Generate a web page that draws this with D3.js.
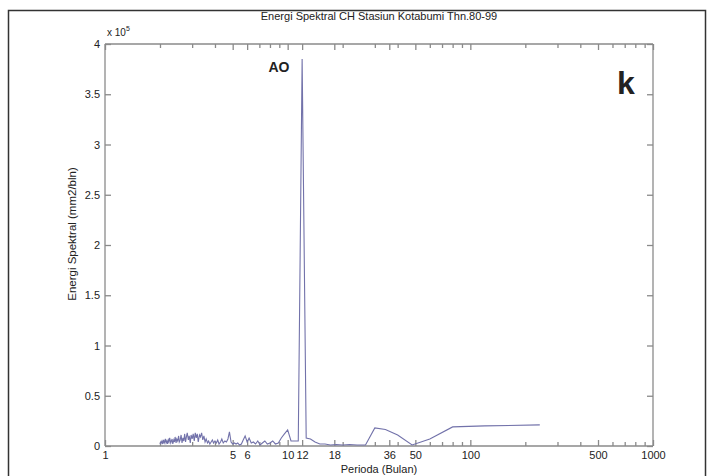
<!DOCTYPE html>
<html>
<head>
<meta charset="utf-8">
<script src="https://cdn.jsdelivr.net/npm/d3@7/dist/d3.min.js"></script>
<style>
  body { margin: 0; background: #fff; }
  text { font-family: "Liberation Sans", Arial, sans-serif; fill: #222; }
  .axis path, .axis line { stroke: #8a8a8a; stroke-width: 1.3; }
  .axis text { font-size: 11px; fill: #222; }
  .line { fill: none; stroke: #7272aa; stroke-width: 1.1; }
</style>
</head>
<body>
<div id="chart"></div>
<script>
// periods (months) of the spectrum, 240/k, k = 120 .. 1
var periods = [
  2.00, 2.02, 2.03, 2.05, 2.07, 2.09, 2.11, 2.12, 2.14, 2.16,
  2.18, 2.20, 2.22, 2.24, 2.26, 2.29, 2.31, 2.33, 2.35, 2.38,
  2.40, 2.42, 2.45, 2.47, 2.50, 2.53, 2.55, 2.58, 2.61, 2.64,
  2.67, 2.70, 2.73, 2.76, 2.79, 2.82, 2.86, 2.89, 2.93, 2.96,
  3.00, 3.04, 3.08, 3.12, 3.16, 3.20, 3.24, 3.29, 3.33, 3.38,
  3.43, 3.48, 3.53, 3.58, 3.64, 3.69, 3.75, 3.81, 3.87, 3.93,
  4.00, 4.07, 4.14, 4.21, 4.29, 4.36, 4.44, 4.53, 4.62, 4.71,
  4.80, 4.90, 5.00, 5.11, 5.22, 5.33, 5.45, 5.58, 5.71, 5.85,
  6.00, 6.15, 6.32, 6.49, 6.67, 6.86, 7.06, 7.27, 7.50, 7.74,
  8.00, 8.28, 8.57, 8.89, 9.23, 9.60, 10.00, 10.43, 10.91, 11.43,
  12.00, 12.63, 13.33, 14.12, 15.00, 16.00, 17.14, 18.46, 20.00, 21.82,
  24.00, 26.67, 30.00, 34.29, 40.00, 48.00, 60.00, 80.00, 120.00, 240.00
];

// spectral energy, x 10^5 mm2/bln
var energy = [
  0.02, 0.04, 0.03, 0.05, 0.02, 0.06, 0.03, 0.04, 0.07, 0.03,
  0.05, 0.02, 0.06, 0.04, 0.08, 0.03, 0.05, 0.07, 0.02, 0.06,
  0.04, 0.09, 0.03, 0.07, 0.05, 0.10, 0.04, 0.06, 0.11, 0.03,
  0.08, 0.05, 0.12, 0.04, 0.09, 0.13, 0.06, 0.10, 0.03, 0.11,
  0.07, 0.12, 0.05, 0.13, 0.08, 0.12, 0.04, 0.11, 0.09, 0.13,
  0.06, 0.10, 0.04, 0.07, 0.03, 0.05, 0.02, 0.04, 0.06, 0.03,
  0.05, 0.03, 0.06, 0.02, 0.04, 0.07, 0.03, 0.05, 0.04, 0.07,
  0.14, 0.04, 0.02, 0.03, 0.02, 0.03, 0.01, 0.02, 0.06, 0.10,
  0.04, 0.08, 0.03, 0.04, 0.02, 0.05, 0.01, 0.03, 0.05, 0.02,
  0.03, 0.05, 0.02, 0.03, 0.08, 0.12, 0.16, 0.05, 0.05, 0.05,
  3.85, 0.08, 0.07, 0.04, 0.02, 0.02, 0.01, 0.015, 0.01, 0.015,
  0.01, 0.01, 0.18, 0.165, 0.11, 0.01, 0.07, 0.19, 0.20, 0.21
];

var xTicks = [1, 5, 6, 10, 12, 18, 36, 50, 100, 500, 1000];
var yTicks = [0, 0.5, 1, 1.5, 2, 2.5, 3, 3.5, 4];

var width = 714, height = 476;
var mLeft = 105, mRight = 653, mTop = 44, mBottom = 446;

var svg = d3.select("#chart").append("svg")
  .attr("width", width)
  .attr("height", height);

// outer frame of the figure
svg.append("rect")
  .attr("x", 8.5).attr("y", 10.5)
  .attr("width", 697).attr("height", 480)
  .attr("fill", "none")
  .attr("stroke", "#333")
  .attr("stroke-width", 1.5);

var x = d3.scaleLog().domain([1, 1000]).range([mLeft, mRight]);
var y = d3.scaleLinear().domain([0, 4]).range([mBottom, mTop]);

var minor = x.ticks().filter(function (d) { return xTicks.indexOf(d) < 0; });

// minor ticks bottom / top
svg.append("g").attr("class", "axis")
  .attr("transform", "translate(0," + mBottom + ")")
  .call(d3.axisBottom(x).tickValues(minor).tickSize(-4).tickFormat(""))
  .select(".domain").remove();
svg.append("g").attr("class", "axis")
  .attr("transform", "translate(0," + mTop + ")")
  .call(d3.axisTop(x).tickValues(minor).tickSize(-4).tickFormat(""))
  .select(".domain").remove();

// major x ticks
svg.append("g").attr("class", "axis")
  .attr("transform", "translate(0," + mBottom + ")")
  .call(d3.axisBottom(x).tickValues(xTicks).tickSize(-6).tickPadding(5)
    .tickFormat(function (d) { return d; }))
  .call(function (g) { g.select(".domain").attr("d", "M" + mLeft + ",0H" + mRight); });
svg.append("g").attr("class", "axis")
  .attr("transform", "translate(0," + mTop + ")")
  .call(d3.axisTop(x).tickValues(xTicks).tickSize(-6).tickFormat(""))
  .call(function (g) { g.select(".domain").attr("d", "M" + mLeft + ",0H" + mRight); });

// y axes
svg.append("g").attr("class", "axis")
  .attr("transform", "translate(" + mLeft + ",0)")
  .call(d3.axisLeft(y).tickValues(yTicks).tickSize(-6).tickPadding(5)
    .tickFormat(function (d) { return d; }))
  .call(function (g) { g.select(".domain").attr("d", "M0," + mBottom + "V" + mTop); });
svg.append("g").attr("class", "axis")
  .attr("transform", "translate(" + mRight + ",0)")
  .call(d3.axisRight(y).tickValues(yTicks).tickSize(-6).tickFormat(""))
  .call(function (g) { g.select(".domain").attr("d", "M0," + mBottom + "V" + mTop); });

// spectrum line
var data = periods.map(function (p, i) { return { p: p, e: energy[i] }; });
var line = d3.line()
  .x(function (d) { return x(d.p); })
  .y(function (d) { return y(d.e); });
svg.append("path").datum(data).attr("class", "line").attr("d", line);

// texts
svg.append("text")
  .attr("x", (mLeft + mRight) / 2).attr("y", 20)
  .attr("text-anchor", "middle").attr("font-size", 11)
  .text("Energi Spektral CH Stasiun Kotabumi Thn.80-99");

var ex = svg.append("text").attr("x", mLeft + 2).attr("y", 36).attr("font-size", 10);
ex.append("tspan").text("x 10");
ex.append("tspan").attr("dy", -5).attr("font-size", 7).text("5");

svg.append("text")
  .attr("x", (mLeft + mRight) / 2).attr("y", 473)
  .attr("text-anchor", "middle").attr("font-size", 11)
  .text("Perioda (Bulan)");

svg.append("text")
  .attr("transform", "translate(76," + 234 + ") rotate(-90)")
  .attr("text-anchor", "middle").attr("font-size", 11.5)
  .text("Energi Spektral (mm2/bln)");

svg.append("text")
  .attr("x", 279).attr("y", 72)
  .attr("text-anchor", "middle").attr("font-size", 14).attr("font-weight", "bold")
  .text("AO");

svg.append("text")
  .attr("x", 626).attr("y", 94)
  .attr("text-anchor", "middle").attr("font-size", 32).attr("font-weight", "bold")
  .text("k");
</script>
</body>
</html>
